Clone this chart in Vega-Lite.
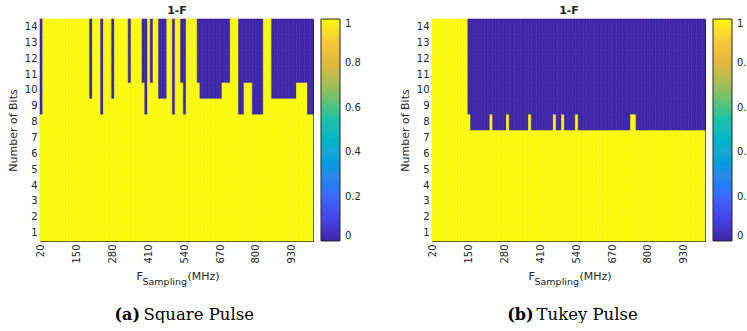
{
"$schema": "https://vega.github.io/schema/vega-lite/v6.json",
"background": "white",
"padding": {"left": 6, "top": 3, "right": 0, "bottom": 0},
"config": {
  "font": "DejaVu Sans",
  "view": {"stroke": "#262626", "strokeWidth": 1},
  "axis": {"labelFont": "DejaVu Sans", "labelFontSize": 10, "labelColor": "#262626", "titleFont": "DejaVu Sans", "titleFontSize": 11, "titleFontWeight": "normal", "titleColor": "#262626", "ticks": false, "domain": false, "grid": false}
},
"datasets": {
"sq": [
{"f":20,"b":[1,2,3,4,5,6,7,8,9,10,11,12,13,14],"v":[1,1,1,1,1,1,1,1,0,0,0,0,0,0]},
{"f":30,"b":[1,2,3,4,5,6,7,8,9,10,11,12,13,14],"v":[1,1,1,1,1,1,1,1,1,1,1,1,1,1]},
{"f":40,"b":[1,2,3,4,5,6,7,8,9,10,11,12,13,14],"v":[1,1,1,1,1,1,1,1,1,1,1,1,1,1]},
{"f":50,"b":[1,2,3,4,5,6,7,8,9,10,11,12,13,14],"v":[1,1,1,1,1,1,1,1,1,1,1,1,1,1]},
{"f":60,"b":[1,2,3,4,5,6,7,8,9,10,11,12,13,14],"v":[1,1,1,1,1,1,1,1,1,1,1,1,1,1]},
{"f":70,"b":[1,2,3,4,5,6,7,8,9,10,11,12,13,14],"v":[1,1,1,1,1,1,1,1,1,1,1,1,1,1]},
{"f":80,"b":[1,2,3,4,5,6,7,8,9,10,11,12,13,14],"v":[1,1,1,1,1,1,1,1,1,1,1,1,1,1]},
{"f":90,"b":[1,2,3,4,5,6,7,8,9,10,11,12,13,14],"v":[1,1,1,1,1,1,1,1,1,1,1,1,1,1]},
{"f":100,"b":[1,2,3,4,5,6,7,8,9,10,11,12,13,14],"v":[1,1,1,1,1,1,1,1,1,1,1,1,1,1]},
{"f":110,"b":[1,2,3,4,5,6,7,8,9,10,11,12,13,14],"v":[1,1,1,1,1,1,1,1,1,1,1,1,1,1]},
{"f":120,"b":[1,2,3,4,5,6,7,8,9,10,11,12,13,14],"v":[1,1,1,1,1,1,1,1,1,1,1,1,1,1]},
{"f":130,"b":[1,2,3,4,5,6,7,8,9,10,11,12,13,14],"v":[1,1,1,1,1,1,1,1,1,1,1,1,1,1]},
{"f":140,"b":[1,2,3,4,5,6,7,8,9,10,11,12,13,14],"v":[1,1,1,1,1,1,1,1,1,1,1,1,1,1]},
{"f":150,"b":[1,2,3,4,5,6,7,8,9,10,11,12,13,14],"v":[1,1,1,1,1,1,1,1,1,1,1,1,1,1]},
{"f":160,"b":[1,2,3,4,5,6,7,8,9,10,11,12,13,14],"v":[1,1,1,1,1,1,1,1,1,1,1,1,1,1]},
{"f":170,"b":[1,2,3,4,5,6,7,8,9,10,11,12,13,14],"v":[1,1,1,1,1,1,1,1,1,1,1,1,1,1]},
{"f":180,"b":[1,2,3,4,5,6,7,8,9,10,11,12,13,14],"v":[1,1,1,1,1,1,1,1,1,1,1,1,1,1]},
{"f":190,"b":[1,2,3,4,5,6,7,8,9,10,11,12,13,14],"v":[1,1,1,1,1,1,1,1,1,1,1,1,1,1]},
{"f":200,"b":[1,2,3,4,5,6,7,8,9,10,11,12,13,14],"v":[1,1,1,1,1,1,1,1,1,0,0,0,0,0]},
{"f":210,"b":[1,2,3,4,5,6,7,8,9,10,11,12,13,14],"v":[1,1,1,1,1,1,1,1,1,1,1,1,1,1]},
{"f":220,"b":[1,2,3,4,5,6,7,8,9,10,11,12,13,14],"v":[1,1,1,1,1,1,1,1,1,1,1,1,1,1]},
{"f":230,"b":[1,2,3,4,5,6,7,8,9,10,11,12,13,14],"v":[1,1,1,1,1,1,1,1,1,1,1,1,1,1]},
{"f":240,"b":[1,2,3,4,5,6,7,8,9,10,11,12,13,14],"v":[1,1,1,1,1,1,1,1,0,0,0,0,0,0]},
{"f":250,"b":[1,2,3,4,5,6,7,8,9,10,11,12,13,14],"v":[1,1,1,1,1,1,1,1,1,1,1,1,1,1]},
{"f":260,"b":[1,2,3,4,5,6,7,8,9,10,11,12,13,14],"v":[1,1,1,1,1,1,1,1,1,1,1,1,1,1]},
{"f":270,"b":[1,2,3,4,5,6,7,8,9,10,11,12,13,14],"v":[1,1,1,1,1,1,1,1,1,1,1,1,1,1]},
{"f":280,"b":[1,2,3,4,5,6,7,8,9,10,11,12,13,14],"v":[1,1,1,1,1,1,1,1,1,0,0,0,0,0]},
{"f":290,"b":[1,2,3,4,5,6,7,8,9,10,11,12,13,14],"v":[1,1,1,1,1,1,1,1,1,1,1,1,1,1]},
{"f":300,"b":[1,2,3,4,5,6,7,8,9,10,11,12,13,14],"v":[1,1,1,1,1,1,1,1,1,1,1,1,1,1]},
{"f":310,"b":[1,2,3,4,5,6,7,8,9,10,11,12,13,14],"v":[1,1,1,1,1,1,1,1,1,1,1,1,1,1]},
{"f":320,"b":[1,2,3,4,5,6,7,8,9,10,11,12,13,14],"v":[1,1,1,1,1,1,1,1,1,1,1,1,1,1]},
{"f":330,"b":[1,2,3,4,5,6,7,8,9,10,11,12,13,14],"v":[1,1,1,1,1,1,1,1,1,1,1,1,1,1]},
{"f":340,"b":[1,2,3,4,5,6,7,8,9,10,11,12,13,14],"v":[1,1,1,1,1,1,1,1,1,1,0,0,0,0]},
{"f":350,"b":[1,2,3,4,5,6,7,8,9,10,11,12,13,14],"v":[1,1,1,1,1,1,1,1,1,1,1,1,1,1]},
{"f":360,"b":[1,2,3,4,5,6,7,8,9,10,11,12,13,14],"v":[1,1,1,1,1,1,1,1,1,1,1,1,1,1]},
{"f":370,"b":[1,2,3,4,5,6,7,8,9,10,11,12,13,14],"v":[1,1,1,1,1,1,1,1,1,1,1,1,1,1]},
{"f":380,"b":[1,2,3,4,5,6,7,8,9,10,11,12,13,14],"v":[1,1,1,1,1,1,1,1,1,1,1,1,1,1]},
{"f":390,"b":[1,2,3,4,5,6,7,8,9,10,11,12,13,14],"v":[1,1,1,1,1,1,1,1,1,1,0,0,0,0]},
{"f":400,"b":[1,2,3,4,5,6,7,8,9,10,11,12,13,14],"v":[1,1,1,1,1,1,1,1,0,0,0,0,0,0]},
{"f":410,"b":[1,2,3,4,5,6,7,8,9,10,11,12,13,14],"v":[1,1,1,1,1,1,1,1,1,1,1,1,1,1]},
{"f":420,"b":[1,2,3,4,5,6,7,8,9,10,11,12,13,14],"v":[1,1,1,1,1,1,1,1,1,1,0,0,0,0]},
{"f":430,"b":[1,2,3,4,5,6,7,8,9,10,11,12,13,14],"v":[1,1,1,1,1,1,1,1,1,1,1,1,1,1]},
{"f":440,"b":[1,2,3,4,5,6,7,8,9,10,11,12,13,14],"v":[1,1,1,1,1,1,1,1,1,1,1,1,1,1]},
{"f":450,"b":[1,2,3,4,5,6,7,8,9,10,11,12,13,14],"v":[1,1,1,1,1,1,1,1,1,0,0,0,0,0]},
{"f":460,"b":[1,2,3,4,5,6,7,8,9,10,11,12,13,14],"v":[1,1,1,1,1,1,1,1,1,0,0,0,0,0]},
{"f":470,"b":[1,2,3,4,5,6,7,8,9,10,11,12,13,14],"v":[1,1,1,1,1,1,1,1,1,0,0,0,0,0]},
{"f":480,"b":[1,2,3,4,5,6,7,8,9,10,11,12,13,14],"v":[1,1,1,1,1,1,1,1,1,1,1,1,1,1]},
{"f":490,"b":[1,2,3,4,5,6,7,8,9,10,11,12,13,14],"v":[1,1,1,1,1,1,1,1,1,1,1,1,1,1]},
{"f":500,"b":[1,2,3,4,5,6,7,8,9,10,11,12,13,14],"v":[1,1,1,1,1,1,1,1,0,0,0,0,0,0]},
{"f":510,"b":[1,2,3,4,5,6,7,8,9,10,11,12,13,14],"v":[1,1,1,1,1,1,1,1,1,1,1,1,1,1]},
{"f":520,"b":[1,2,3,4,5,6,7,8,9,10,11,12,13,14],"v":[1,1,1,1,1,1,1,1,1,1,1,1,1,1]},
{"f":530,"b":[1,2,3,4,5,6,7,8,9,10,11,12,13,14],"v":[1,1,1,1,1,1,1,1,1,1,0,0,0,0]},
{"f":540,"b":[1,2,3,4,5,6,7,8,9,10,11,12,13,14],"v":[1,1,1,1,1,1,1,1,0,0,0,0,0,0]},
{"f":550,"b":[1,2,3,4,5,6,7,8,9,10,11,12,13,14],"v":[1,1,1,1,1,1,1,1,1,1,1,1,1,1]},
{"f":560,"b":[1,2,3,4,5,6,7,8,9,10,11,12,13,14],"v":[1,1,1,1,1,1,1,1,1,1,1,1,1,1]},
{"f":570,"b":[1,2,3,4,5,6,7,8,9,10,11,12,13,14],"v":[1,1,1,1,1,1,1,1,1,1,1,1,1,1]},
{"f":580,"b":[1,2,3,4,5,6,7,8,9,10,11,12,13,14],"v":[1,1,1,1,1,1,1,1,1,1,1,1,1,1]},
{"f":590,"b":[1,2,3,4,5,6,7,8,9,10,11,12,13,14],"v":[1,1,1,1,1,1,1,1,1,1,0,0,0,0]},
{"f":600,"b":[1,2,3,4,5,6,7,8,9,10,11,12,13,14],"v":[1,1,1,1,1,1,1,1,1,0,0,0,0,0]},
{"f":610,"b":[1,2,3,4,5,6,7,8,9,10,11,12,13,14],"v":[1,1,1,1,1,1,1,1,1,0,0,0,0,0]},
{"f":620,"b":[1,2,3,4,5,6,7,8,9,10,11,12,13,14],"v":[1,1,1,1,1,1,1,1,1,0,0,0,0,0]},
{"f":630,"b":[1,2,3,4,5,6,7,8,9,10,11,12,13,14],"v":[1,1,1,1,1,1,1,1,1,0,0,0,0,0]},
{"f":640,"b":[1,2,3,4,5,6,7,8,9,10,11,12,13,14],"v":[1,1,1,1,1,1,1,1,1,0,0,0,0,0]},
{"f":650,"b":[1,2,3,4,5,6,7,8,9,10,11,12,13,14],"v":[1,1,1,1,1,1,1,1,1,0,0,0,0,0]},
{"f":660,"b":[1,2,3,4,5,6,7,8,9,10,11,12,13,14],"v":[1,1,1,1,1,1,1,1,1,0,0,0,0,0]},
{"f":670,"b":[1,2,3,4,5,6,7,8,9,10,11,12,13,14],"v":[1,1,1,1,1,1,1,1,1,0,0,0,0,0]},
{"f":680,"b":[1,2,3,4,5,6,7,8,9,10,11,12,13,14],"v":[1,1,1,1,1,1,1,1,1,1,0,0,0,0]},
{"f":690,"b":[1,2,3,4,5,6,7,8,9,10,11,12,13,14],"v":[1,1,1,1,1,1,1,1,1,1,0,0,0,0]},
{"f":700,"b":[1,2,3,4,5,6,7,8,9,10,11,12,13,14],"v":[1,1,1,1,1,1,1,1,1,1,0,0,0,0]},
{"f":710,"b":[1,2,3,4,5,6,7,8,9,10,11,12,13,14],"v":[1,1,1,1,1,1,1,1,1,1,1,1,1,1]},
{"f":720,"b":[1,2,3,4,5,6,7,8,9,10,11,12,13,14],"v":[1,1,1,1,1,1,1,1,1,1,1,1,1,1]},
{"f":730,"b":[1,2,3,4,5,6,7,8,9,10,11,12,13,14],"v":[1,1,1,1,1,1,1,1,1,1,1,1,1,1]},
{"f":740,"b":[1,2,3,4,5,6,7,8,9,10,11,12,13,14],"v":[1,1,1,1,1,1,1,1,0,0,0,0,0,0]},
{"f":750,"b":[1,2,3,4,5,6,7,8,9,10,11,12,13,14],"v":[1,1,1,1,1,1,1,1,0,0,0,0,0,0]},
{"f":760,"b":[1,2,3,4,5,6,7,8,9,10,11,12,13,14],"v":[1,1,1,1,1,1,1,1,1,1,0,0,0,0]},
{"f":770,"b":[1,2,3,4,5,6,7,8,9,10,11,12,13,14],"v":[1,1,1,1,1,1,1,1,1,1,0,0,0,0]},
{"f":780,"b":[1,2,3,4,5,6,7,8,9,10,11,12,13,14],"v":[1,1,1,1,1,1,1,1,1,1,0,0,0,0]},
{"f":790,"b":[1,2,3,4,5,6,7,8,9,10,11,12,13,14],"v":[1,1,1,1,1,1,1,1,0,0,0,0,0,0]},
{"f":800,"b":[1,2,3,4,5,6,7,8,9,10,11,12,13,14],"v":[1,1,1,1,1,1,1,1,0,0,0,0,0,0]},
{"f":810,"b":[1,2,3,4,5,6,7,8,9,10,11,12,13,14],"v":[1,1,1,1,1,1,1,1,0,0,0,0,0,0]},
{"f":820,"b":[1,2,3,4,5,6,7,8,9,10,11,12,13,14],"v":[1,1,1,1,1,1,1,1,0,0,0,0,0,0]},
{"f":830,"b":[1,2,3,4,5,6,7,8,9,10,11,12,13,14],"v":[1,1,1,1,1,1,1,1,1,1,1,1,1,1]},
{"f":840,"b":[1,2,3,4,5,6,7,8,9,10,11,12,13,14],"v":[1,1,1,1,1,1,1,1,1,1,1,1,1,1]},
{"f":850,"b":[1,2,3,4,5,6,7,8,9,10,11,12,13,14],"v":[1,1,1,1,1,1,1,1,1,1,1,1,1,1]},
{"f":860,"b":[1,2,3,4,5,6,7,8,9,10,11,12,13,14],"v":[1,1,1,1,1,1,1,1,1,0,0,0,0,0]},
{"f":870,"b":[1,2,3,4,5,6,7,8,9,10,11,12,13,14],"v":[1,1,1,1,1,1,1,1,1,0,0,0,0,0]},
{"f":880,"b":[1,2,3,4,5,6,7,8,9,10,11,12,13,14],"v":[1,1,1,1,1,1,1,1,1,0,0,0,0,0]},
{"f":890,"b":[1,2,3,4,5,6,7,8,9,10,11,12,13,14],"v":[1,1,1,1,1,1,1,1,1,0,0,0,0,0]},
{"f":900,"b":[1,2,3,4,5,6,7,8,9,10,11,12,13,14],"v":[1,1,1,1,1,1,1,1,1,0,0,0,0,0]},
{"f":910,"b":[1,2,3,4,5,6,7,8,9,10,11,12,13,14],"v":[1,1,1,1,1,1,1,1,1,0,0,0,0,0]},
{"f":920,"b":[1,2,3,4,5,6,7,8,9,10,11,12,13,14],"v":[1,1,1,1,1,1,1,1,1,0,0,0,0,0]},
{"f":930,"b":[1,2,3,4,5,6,7,8,9,10,11,12,13,14],"v":[1,1,1,1,1,1,1,1,1,0,0,0,0,0]},
{"f":940,"b":[1,2,3,4,5,6,7,8,9,10,11,12,13,14],"v":[1,1,1,1,1,1,1,1,1,0,0,0,0,0]},
{"f":950,"b":[1,2,3,4,5,6,7,8,9,10,11,12,13,14],"v":[1,1,1,1,1,1,1,1,1,1,0,0,0,0]},
{"f":960,"b":[1,2,3,4,5,6,7,8,9,10,11,12,13,14],"v":[1,1,1,1,1,1,1,1,1,1,0,0,0,0]},
{"f":970,"b":[1,2,3,4,5,6,7,8,9,10,11,12,13,14],"v":[1,1,1,1,1,1,1,1,1,1,0,0,0,0]},
{"f":980,"b":[1,2,3,4,5,6,7,8,9,10,11,12,13,14],"v":[1,1,1,1,1,1,1,1,1,1,0,0,0,0]},
{"f":990,"b":[1,2,3,4,5,6,7,8,9,10,11,12,13,14],"v":[1,1,1,1,1,1,1,1,0,0,0,0,0,0]},
{"f":1000,"b":[1,2,3,4,5,6,7,8,9,10,11,12,13,14],"v":[1,1,1,1,1,1,1,1,0,0,0,0,0,0]}
],
"tk": [
{"f":20,"b":[1,2,3,4,5,6,7,8,9,10,11,12,13,14],"v":[1,1,1,1,1,1,1,1,1,1,1,1,1,1]},
{"f":30,"b":[1,2,3,4,5,6,7,8,9,10,11,12,13,14],"v":[1,1,1,1,1,1,1,1,1,1,1,1,1,1]},
{"f":40,"b":[1,2,3,4,5,6,7,8,9,10,11,12,13,14],"v":[1,1,1,1,1,1,1,1,1,1,1,1,1,1]},
{"f":50,"b":[1,2,3,4,5,6,7,8,9,10,11,12,13,14],"v":[1,1,1,1,1,1,1,1,1,1,1,1,1,1]},
{"f":60,"b":[1,2,3,4,5,6,7,8,9,10,11,12,13,14],"v":[1,1,1,1,1,1,1,1,1,1,1,1,1,1]},
{"f":70,"b":[1,2,3,4,5,6,7,8,9,10,11,12,13,14],"v":[1,1,1,1,1,1,1,1,1,1,1,1,1,1]},
{"f":80,"b":[1,2,3,4,5,6,7,8,9,10,11,12,13,14],"v":[1,1,1,1,1,1,1,1,1,1,1,1,1,1]},
{"f":90,"b":[1,2,3,4,5,6,7,8,9,10,11,12,13,14],"v":[1,1,1,1,1,1,1,1,1,1,1,1,1,1]},
{"f":100,"b":[1,2,3,4,5,6,7,8,9,10,11,12,13,14],"v":[1,1,1,1,1,1,1,1,1,1,1,1,1,1]},
{"f":110,"b":[1,2,3,4,5,6,7,8,9,10,11,12,13,14],"v":[1,1,1,1,1,1,1,1,1,1,1,1,1,1]},
{"f":120,"b":[1,2,3,4,5,6,7,8,9,10,11,12,13,14],"v":[1,1,1,1,1,1,1,1,1,1,1,1,1,1]},
{"f":130,"b":[1,2,3,4,5,6,7,8,9,10,11,12,13,14],"v":[1,1,1,1,1,1,1,1,1,1,1,1,1,1]},
{"f":140,"b":[1,2,3,4,5,6,7,8,9,10,11,12,13,14],"v":[1,1,1,1,1,1,1,1,1,1,1,1,1,1]},
{"f":150,"b":[1,2,3,4,5,6,7,8,9,10,11,12,13,14],"v":[1,1,1,1,1,1,1,1,0,0,0,0,0,0]},
{"f":160,"b":[1,2,3,4,5,6,7,8,9,10,11,12,13,14],"v":[1,1,1,1,1,1,1,0,0,0,0,0,0,0]},
{"f":170,"b":[1,2,3,4,5,6,7,8,9,10,11,12,13,14],"v":[1,1,1,1,1,1,1,0,0,0,0,0,0,0]},
{"f":180,"b":[1,2,3,4,5,6,7,8,9,10,11,12,13,14],"v":[1,1,1,1,1,1,1,0,0,0,0,0,0,0]},
{"f":190,"b":[1,2,3,4,5,6,7,8,9,10,11,12,13,14],"v":[1,1,1,1,1,1,1,0,0,0,0,0,0,0]},
{"f":200,"b":[1,2,3,4,5,6,7,8,9,10,11,12,13,14],"v":[1,1,1,1,1,1,1,0,0,0,0,0,0,0]},
{"f":210,"b":[1,2,3,4,5,6,7,8,9,10,11,12,13,14],"v":[1,1,1,1,1,1,1,0,0,0,0,0,0,0]},
{"f":220,"b":[1,2,3,4,5,6,7,8,9,10,11,12,13,14],"v":[1,1,1,1,1,1,1,0,0,0,0,0,0,0]},
{"f":230,"b":[1,2,3,4,5,6,7,8,9,10,11,12,13,14],"v":[1,1,1,1,1,1,1,1,0,0,0,0,0,0]},
{"f":240,"b":[1,2,3,4,5,6,7,8,9,10,11,12,13,14],"v":[1,1,1,1,1,1,1,0,0,0,0,0,0,0]},
{"f":250,"b":[1,2,3,4,5,6,7,8,9,10,11,12,13,14],"v":[1,1,1,1,1,1,1,0,0,0,0,0,0,0]},
{"f":260,"b":[1,2,3,4,5,6,7,8,9,10,11,12,13,14],"v":[1,1,1,1,1,1,1,0,0,0,0,0,0,0]},
{"f":270,"b":[1,2,3,4,5,6,7,8,9,10,11,12,13,14],"v":[1,1,1,1,1,1,1,0,0,0,0,0,0,0]},
{"f":280,"b":[1,2,3,4,5,6,7,8,9,10,11,12,13,14],"v":[1,1,1,1,1,1,1,0,0,0,0,0,0,0]},
{"f":290,"b":[1,2,3,4,5,6,7,8,9,10,11,12,13,14],"v":[1,1,1,1,1,1,1,1,0,0,0,0,0,0]},
{"f":300,"b":[1,2,3,4,5,6,7,8,9,10,11,12,13,14],"v":[1,1,1,1,1,1,1,0,0,0,0,0,0,0]},
{"f":310,"b":[1,2,3,4,5,6,7,8,9,10,11,12,13,14],"v":[1,1,1,1,1,1,1,0,0,0,0,0,0,0]},
{"f":320,"b":[1,2,3,4,5,6,7,8,9,10,11,12,13,14],"v":[1,1,1,1,1,1,1,0,0,0,0,0,0,0]},
{"f":330,"b":[1,2,3,4,5,6,7,8,9,10,11,12,13,14],"v":[1,1,1,1,1,1,1,0,0,0,0,0,0,0]},
{"f":340,"b":[1,2,3,4,5,6,7,8,9,10,11,12,13,14],"v":[1,1,1,1,1,1,1,0,0,0,0,0,0,0]},
{"f":350,"b":[1,2,3,4,5,6,7,8,9,10,11,12,13,14],"v":[1,1,1,1,1,1,1,0,0,0,0,0,0,0]},
{"f":360,"b":[1,2,3,4,5,6,7,8,9,10,11,12,13,14],"v":[1,1,1,1,1,1,1,0,0,0,0,0,0,0]},
{"f":370,"b":[1,2,3,4,5,6,7,8,9,10,11,12,13,14],"v":[1,1,1,1,1,1,1,1,0,0,0,0,0,0]},
{"f":380,"b":[1,2,3,4,5,6,7,8,9,10,11,12,13,14],"v":[1,1,1,1,1,1,1,0,0,0,0,0,0,0]},
{"f":390,"b":[1,2,3,4,5,6,7,8,9,10,11,12,13,14],"v":[1,1,1,1,1,1,1,0,0,0,0,0,0,0]},
{"f":400,"b":[1,2,3,4,5,6,7,8,9,10,11,12,13,14],"v":[1,1,1,1,1,1,1,0,0,0,0,0,0,0]},
{"f":410,"b":[1,2,3,4,5,6,7,8,9,10,11,12,13,14],"v":[1,1,1,1,1,1,1,0,0,0,0,0,0,0]},
{"f":420,"b":[1,2,3,4,5,6,7,8,9,10,11,12,13,14],"v":[1,1,1,1,1,1,1,0,0,0,0,0,0,0]},
{"f":430,"b":[1,2,3,4,5,6,7,8,9,10,11,12,13,14],"v":[1,1,1,1,1,1,1,0,0,0,0,0,0,0]},
{"f":440,"b":[1,2,3,4,5,6,7,8,9,10,11,12,13,14],"v":[1,1,1,1,1,1,1,0,0,0,0,0,0,0]},
{"f":450,"b":[1,2,3,4,5,6,7,8,9,10,11,12,13,14],"v":[1,1,1,1,1,1,1,0,0,0,0,0,0,0]},
{"f":460,"b":[1,2,3,4,5,6,7,8,9,10,11,12,13,14],"v":[1,1,1,1,1,1,1,1,0,0,0,0,0,0]},
{"f":470,"b":[1,2,3,4,5,6,7,8,9,10,11,12,13,14],"v":[1,1,1,1,1,1,1,0,0,0,0,0,0,0]},
{"f":480,"b":[1,2,3,4,5,6,7,8,9,10,11,12,13,14],"v":[1,1,1,1,1,1,1,0,0,0,0,0,0,0]},
{"f":490,"b":[1,2,3,4,5,6,7,8,9,10,11,12,13,14],"v":[1,1,1,1,1,1,1,1,0,0,0,0,0,0]},
{"f":500,"b":[1,2,3,4,5,6,7,8,9,10,11,12,13,14],"v":[1,1,1,1,1,1,1,0,0,0,0,0,0,0]},
{"f":510,"b":[1,2,3,4,5,6,7,8,9,10,11,12,13,14],"v":[1,1,1,1,1,1,1,0,0,0,0,0,0,0]},
{"f":520,"b":[1,2,3,4,5,6,7,8,9,10,11,12,13,14],"v":[1,1,1,1,1,1,1,0,0,0,0,0,0,0]},
{"f":530,"b":[1,2,3,4,5,6,7,8,9,10,11,12,13,14],"v":[1,1,1,1,1,1,1,0,0,0,0,0,0,0]},
{"f":540,"b":[1,2,3,4,5,6,7,8,9,10,11,12,13,14],"v":[1,1,1,1,1,1,1,1,0,0,0,0,0,0]},
{"f":550,"b":[1,2,3,4,5,6,7,8,9,10,11,12,13,14],"v":[1,1,1,1,1,1,1,0,0,0,0,0,0,0]},
{"f":560,"b":[1,2,3,4,5,6,7,8,9,10,11,12,13,14],"v":[1,1,1,1,1,1,1,0,0,0,0,0,0,0]},
{"f":570,"b":[1,2,3,4,5,6,7,8,9,10,11,12,13,14],"v":[1,1,1,1,1,1,1,0,0,0,0,0,0,0]},
{"f":580,"b":[1,2,3,4,5,6,7,8,9,10,11,12,13,14],"v":[1,1,1,1,1,1,1,0,0,0,0,0,0,0]},
{"f":590,"b":[1,2,3,4,5,6,7,8,9,10,11,12,13,14],"v":[1,1,1,1,1,1,1,0,0,0,0,0,0,0]},
{"f":600,"b":[1,2,3,4,5,6,7,8,9,10,11,12,13,14],"v":[1,1,1,1,1,1,1,0,0,0,0,0,0,0]},
{"f":610,"b":[1,2,3,4,5,6,7,8,9,10,11,12,13,14],"v":[1,1,1,1,1,1,1,0,0,0,0,0,0,0]},
{"f":620,"b":[1,2,3,4,5,6,7,8,9,10,11,12,13,14],"v":[1,1,1,1,1,1,1,0,0,0,0,0,0,0]},
{"f":630,"b":[1,2,3,4,5,6,7,8,9,10,11,12,13,14],"v":[1,1,1,1,1,1,1,0,0,0,0,0,0,0]},
{"f":640,"b":[1,2,3,4,5,6,7,8,9,10,11,12,13,14],"v":[1,1,1,1,1,1,1,0,0,0,0,0,0,0]},
{"f":650,"b":[1,2,3,4,5,6,7,8,9,10,11,12,13,14],"v":[1,1,1,1,1,1,1,0,0,0,0,0,0,0]},
{"f":660,"b":[1,2,3,4,5,6,7,8,9,10,11,12,13,14],"v":[1,1,1,1,1,1,1,0,0,0,0,0,0,0]},
{"f":670,"b":[1,2,3,4,5,6,7,8,9,10,11,12,13,14],"v":[1,1,1,1,1,1,1,0,0,0,0,0,0,0]},
{"f":680,"b":[1,2,3,4,5,6,7,8,9,10,11,12,13,14],"v":[1,1,1,1,1,1,1,0,0,0,0,0,0,0]},
{"f":690,"b":[1,2,3,4,5,6,7,8,9,10,11,12,13,14],"v":[1,1,1,1,1,1,1,0,0,0,0,0,0,0]},
{"f":700,"b":[1,2,3,4,5,6,7,8,9,10,11,12,13,14],"v":[1,1,1,1,1,1,1,0,0,0,0,0,0,0]},
{"f":710,"b":[1,2,3,4,5,6,7,8,9,10,11,12,13,14],"v":[1,1,1,1,1,1,1,0,0,0,0,0,0,0]},
{"f":720,"b":[1,2,3,4,5,6,7,8,9,10,11,12,13,14],"v":[1,1,1,1,1,1,1,0,0,0,0,0,0,0]},
{"f":730,"b":[1,2,3,4,5,6,7,8,9,10,11,12,13,14],"v":[1,1,1,1,1,1,1,0,0,0,0,0,0,0]},
{"f":740,"b":[1,2,3,4,5,6,7,8,9,10,11,12,13,14],"v":[1,1,1,1,1,1,1,1,0,0,0,0,0,0]},
{"f":750,"b":[1,2,3,4,5,6,7,8,9,10,11,12,13,14],"v":[1,1,1,1,1,1,1,1,0,0,0,0,0,0]},
{"f":760,"b":[1,2,3,4,5,6,7,8,9,10,11,12,13,14],"v":[1,1,1,1,1,1,1,0,0,0,0,0,0,0]},
{"f":770,"b":[1,2,3,4,5,6,7,8,9,10,11,12,13,14],"v":[1,1,1,1,1,1,1,0,0,0,0,0,0,0]},
{"f":780,"b":[1,2,3,4,5,6,7,8,9,10,11,12,13,14],"v":[1,1,1,1,1,1,1,0,0,0,0,0,0,0]},
{"f":790,"b":[1,2,3,4,5,6,7,8,9,10,11,12,13,14],"v":[1,1,1,1,1,1,1,0,0,0,0,0,0,0]},
{"f":800,"b":[1,2,3,4,5,6,7,8,9,10,11,12,13,14],"v":[1,1,1,1,1,1,1,0,0,0,0,0,0,0]},
{"f":810,"b":[1,2,3,4,5,6,7,8,9,10,11,12,13,14],"v":[1,1,1,1,1,1,1,0,0,0,0,0,0,0]},
{"f":820,"b":[1,2,3,4,5,6,7,8,9,10,11,12,13,14],"v":[1,1,1,1,1,1,1,0,0,0,0,0,0,0]},
{"f":830,"b":[1,2,3,4,5,6,7,8,9,10,11,12,13,14],"v":[1,1,1,1,1,1,1,0,0,0,0,0,0,0]},
{"f":840,"b":[1,2,3,4,5,6,7,8,9,10,11,12,13,14],"v":[1,1,1,1,1,1,1,0,0,0,0,0,0,0]},
{"f":850,"b":[1,2,3,4,5,6,7,8,9,10,11,12,13,14],"v":[1,1,1,1,1,1,1,0,0,0,0,0,0,0]},
{"f":860,"b":[1,2,3,4,5,6,7,8,9,10,11,12,13,14],"v":[1,1,1,1,1,1,1,0,0,0,0,0,0,0]},
{"f":870,"b":[1,2,3,4,5,6,7,8,9,10,11,12,13,14],"v":[1,1,1,1,1,1,1,0,0,0,0,0,0,0]},
{"f":880,"b":[1,2,3,4,5,6,7,8,9,10,11,12,13,14],"v":[1,1,1,1,1,1,1,0,0,0,0,0,0,0]},
{"f":890,"b":[1,2,3,4,5,6,7,8,9,10,11,12,13,14],"v":[1,1,1,1,1,1,1,0,0,0,0,0,0,0]},
{"f":900,"b":[1,2,3,4,5,6,7,8,9,10,11,12,13,14],"v":[1,1,1,1,1,1,1,0,0,0,0,0,0,0]},
{"f":910,"b":[1,2,3,4,5,6,7,8,9,10,11,12,13,14],"v":[1,1,1,1,1,1,1,0,0,0,0,0,0,0]},
{"f":920,"b":[1,2,3,4,5,6,7,8,9,10,11,12,13,14],"v":[1,1,1,1,1,1,1,0,0,0,0,0,0,0]},
{"f":930,"b":[1,2,3,4,5,6,7,8,9,10,11,12,13,14],"v":[1,1,1,1,1,1,1,0,0,0,0,0,0,0]},
{"f":940,"b":[1,2,3,4,5,6,7,8,9,10,11,12,13,14],"v":[1,1,1,1,1,1,1,0,0,0,0,0,0,0]},
{"f":950,"b":[1,2,3,4,5,6,7,8,9,10,11,12,13,14],"v":[1,1,1,1,1,1,1,0,0,0,0,0,0,0]},
{"f":960,"b":[1,2,3,4,5,6,7,8,9,10,11,12,13,14],"v":[1,1,1,1,1,1,1,0,0,0,0,0,0,0]},
{"f":970,"b":[1,2,3,4,5,6,7,8,9,10,11,12,13,14],"v":[1,1,1,1,1,1,1,0,0,0,0,0,0,0]},
{"f":980,"b":[1,2,3,4,5,6,7,8,9,10,11,12,13,14],"v":[1,1,1,1,1,1,1,0,0,0,0,0,0,0]},
{"f":990,"b":[1,2,3,4,5,6,7,8,9,10,11,12,13,14],"v":[1,1,1,1,1,1,1,0,0,0,0,0,0,0]},
{"f":1000,"b":[1,2,3,4,5,6,7,8,9,10,11,12,13,14],"v":[1,1,1,1,1,1,1,0,0,0,0,0,0,0]}
]
},
"spacing": 36,
"resolve": {"scale": {"color": "independent"}},
"hconcat": [
{
  "width": 273, "height": 222,
  "data": {"name": "sq"},
  "transform": [{"flatten": ["b", "v"]}],
  "layer": [
    {
      "mark": {"type": "rect", "strokeWidth": 0.6},
      "encoding": {
        "x": {"field": "f", "type": "ordinal", "scale": {"paddingInner": 0, "paddingOuter": 0},
              "axis": {"orient": "bottom", "values": [20,150,280,410,540,670,800,930], "labelAngle": 270, "labelPadding": 3, "title": "F", "titleX": 96, "titleY": 38, "titleAlign": "left", "titleBaseline": "alphabetic", "titleFontSize": 11}},
        "y": {"field": "b", "type": "ordinal", "sort": "descending", "scale": {"paddingInner": 0, "paddingOuter": 0},
              "axis": {"title": "Number of Bits", "labelPadding": 3, "titlePadding": 6}},
        "color": {"field": "v", "type": "quantitative",
                  "scale": {"domain": [0,0.1,0.2,0.3,0.4,0.5,0.6,0.7,0.8,0.9,1], "range": ["#3E26A8","#4743E8","#3F67FC","#2C8CE8","#17A9D4","#14BBBB","#45C485","#A1BE5A","#E3B73E","#F8C83A","#F9FB0E"]},
                  "legend": {"title": null, "values": [0,0.2,0.4,0.6,0.8,1], "format": "~g", "direction": "vertical", "gradientLength": 222, "gradientThickness": 19, "offset": 8, "padding": 0, "labelFontSize": 10, "labelColor": "#262626", "labelOffset": 5, "labelBaseline": "middle", "labelOverlap": false, "gradientStrokeColor": "#262626", "gradientStrokeWidth": 1}},
        "stroke": {"field": "v", "type": "quantitative",
                  "scale": {"domain": [0,0.1,0.2,0.3,0.4,0.5,0.6,0.7,0.8,0.9,1], "range": ["#3E26A8","#4743E8","#3F67FC","#2C8CE8","#17A9D4","#14BBBB","#45C485","#A1BE5A","#E3B73E","#F8C83A","#F9FB0E"]},
                  "legend": null}
      }
    },
    {
      "transform": [{"filter": "datum.b == 1"}],
      "mark": {"type": "rect", "opacity": 0},
      "encoding": {"x": {"field": "f", "type": "ordinal", "axis": {"orient": "bottom", "labels": false, "title": "Sampling", "titleX": 102, "titleY": 43, "titleAlign": "left", "titleBaseline": "alphabetic", "titleFontSize": 9.5}}}
    },
    {
      "transform": [{"filter": "datum.b == 1"}],
      "mark": {"type": "rect", "opacity": 0},
      "encoding": {"x": {"field": "f", "type": "ordinal", "axis": {"orient": "bottom", "labels": false, "title": "(MHz)", "titleX": 147, "titleY": 38, "titleAlign": "left", "titleBaseline": "alphabetic", "titleFontSize": 11}}}
    },
    {
      "transform": [{"filter": "datum.b == 1"}],
      "mark": {"type": "rect", "opacity": 0},
      "encoding": {"x": {"field": "f", "type": "ordinal", "axis": {"orient": "top", "labels": false, "title": "1-F", "titleFontWeight": "bold", "titleFontSize": 11, "titlePadding": 4}}}
    },
    {
      "transform": [{"filter": "datum.b == 1"}],
      "mark": {"type": "rect", "opacity": 0},
      "encoding": {"x": {"field": "f", "type": "ordinal", "axis": {"orient": "bottom", "labels": false, "title": "(a)", "titleFont": "DejaVu Serif", "titleFontWeight": "bold", "titleColor": "black", "titleX": 99.5, "titleY": 78, "titleAlign": "right", "titleBaseline": "alphabetic", "titleFontSize": 16}}}
    },
    {
      "transform": [{"filter": "datum.b == 1"}],
      "mark": {"type": "rect", "opacity": 0},
      "encoding": {"x": {"field": "f", "type": "ordinal", "axis": {"orient": "bottom", "labels": false, "title": "Square Pulse", "titleFont": "DejaVu Serif", "titleColor": "black", "titleX": 103, "titleY": 78, "titleAlign": "left", "titleBaseline": "alphabetic", "titleFontSize": 16.5}}}
    }
  ],
  "resolve": {"axis": {"x": "independent"}}
},
{
  "width": 273, "height": 222,
  "data": {"name": "tk"},
  "transform": [{"flatten": ["b", "v"]}],
  "layer": [
    {
      "mark": {"type": "rect", "strokeWidth": 0.6},
      "encoding": {
        "x": {"field": "f", "type": "ordinal", "scale": {"paddingInner": 0, "paddingOuter": 0},
              "axis": {"orient": "bottom", "values": [20,150,280,410,540,670,800,930], "labelAngle": 270, "labelPadding": 3, "title": "F", "titleX": 96, "titleY": 38, "titleAlign": "left", "titleBaseline": "alphabetic", "titleFontSize": 11}},
        "y": {"field": "b", "type": "ordinal", "sort": "descending", "scale": {"paddingInner": 0, "paddingOuter": 0},
              "axis": {"title": "Number of Bits", "labelPadding": 3, "titlePadding": 6}},
        "color": {"field": "v", "type": "quantitative",
                  "scale": {"domain": [0,0.1,0.2,0.3,0.4,0.5,0.6,0.7,0.8,0.9,1], "range": ["#3E26A8","#4743E8","#3F67FC","#2C8CE8","#17A9D4","#14BBBB","#45C485","#A1BE5A","#E3B73E","#F8C83A","#F9FB0E"]},
                  "legend": {"title": null, "values": [0,0.2,0.4,0.6,0.8,1], "format": "~g", "direction": "vertical", "gradientLength": 222, "gradientThickness": 19, "offset": 8, "padding": 0, "labelFontSize": 10, "labelColor": "#262626", "labelOffset": 5, "labelBaseline": "middle", "labelOverlap": false, "gradientStrokeColor": "#262626", "gradientStrokeWidth": 1}},
        "stroke": {"field": "v", "type": "quantitative",
                  "scale": {"domain": [0,0.1,0.2,0.3,0.4,0.5,0.6,0.7,0.8,0.9,1], "range": ["#3E26A8","#4743E8","#3F67FC","#2C8CE8","#17A9D4","#14BBBB","#45C485","#A1BE5A","#E3B73E","#F8C83A","#F9FB0E"]},
                  "legend": null}
      }
    },
    {
      "transform": [{"filter": "datum.b == 1"}],
      "mark": {"type": "rect", "opacity": 0},
      "encoding": {"x": {"field": "f", "type": "ordinal", "axis": {"orient": "bottom", "labels": false, "title": "Sampling", "titleX": 102, "titleY": 43, "titleAlign": "left", "titleBaseline": "alphabetic", "titleFontSize": 9.5}}}
    },
    {
      "transform": [{"filter": "datum.b == 1"}],
      "mark": {"type": "rect", "opacity": 0},
      "encoding": {"x": {"field": "f", "type": "ordinal", "axis": {"orient": "bottom", "labels": false, "title": "(MHz)", "titleX": 147, "titleY": 38, "titleAlign": "left", "titleBaseline": "alphabetic", "titleFontSize": 11}}}
    },
    {
      "transform": [{"filter": "datum.b == 1"}],
      "mark": {"type": "rect", "opacity": 0},
      "encoding": {"x": {"field": "f", "type": "ordinal", "axis": {"orient": "top", "labels": false, "title": "1-F", "titleFontWeight": "bold", "titleFontSize": 11, "titlePadding": 4}}}
    },
    {
      "transform": [{"filter": "datum.b == 1"}],
      "mark": {"type": "rect", "opacity": 0},
      "encoding": {"x": {"field": "f", "type": "ordinal", "axis": {"orient": "bottom", "labels": false, "title": "(b)", "titleFont": "DejaVu Serif", "titleFontWeight": "bold", "titleColor": "black", "titleX": 101, "titleY": 78, "titleAlign": "right", "titleBaseline": "alphabetic", "titleFontSize": 16}}}
    },
    {
      "transform": [{"filter": "datum.b == 1"}],
      "mark": {"type": "rect", "opacity": 0},
      "encoding": {"x": {"field": "f", "type": "ordinal", "axis": {"orient": "bottom", "labels": false, "title": "Tukey Pulse", "titleFont": "DejaVu Serif", "titleColor": "black", "titleX": 104, "titleY": 78, "titleAlign": "left", "titleBaseline": "alphabetic", "titleFontSize": 16.5}}}
    }
  ],
  "resolve": {"axis": {"x": "independent"}}
}
]
}
